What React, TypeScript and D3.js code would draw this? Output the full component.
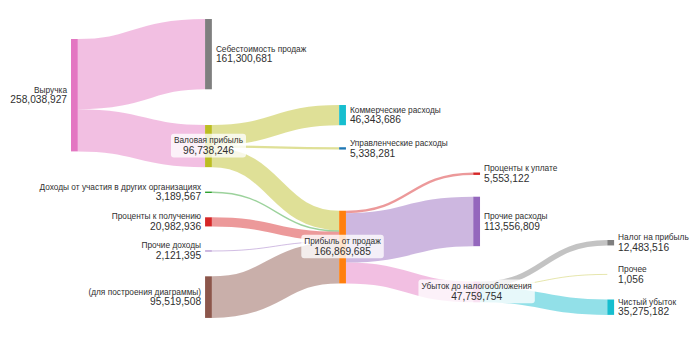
import React, { useEffect, useRef } from "react";
import * as d3 from "d3";

// ---- data ----
const nodeLabels = [
  "Выручка",
  "Себестоимость продаж",
  "Валовая прибыль",
  "Коммерческие расходы",
  "Управленческие расходы",
  "Прибыль от продаж",
  "Доходы от участия в других организациях",
  "Проценты к получению",
  "Прочие доходы",
  "(для построения диаграммы)",
  "Проценты к уплате",
  "Прочие расходы",
  "Убыток до налогообложения",
  "Налог на прибыль",
  "Прочее",
  "Чистый убыток",
];

const nodeColors = [
  "#e377c2", "#7f7f7f", "#bcbd22", "#17becf", "#1f77b4", "#ff7f0e",
  "#2ca02c", "#d62728", "#9467bd", "#8c564b", "#d62728", "#9467bd",
  "#e377c2", "#7f7f7f", "#bcbd22", "#17becf",
];

const linkSource = [0, 0, 2, 2, 2, 6, 7, 8, 9, 5, 5, 5, 12, 12, 12];
const linkTarget = [1, 2, 3, 4, 5, 5, 5, 5, 5, 10, 11, 12, 13, 14, 15];
const linkValues = [
  161300681, 96738246, 46343686, 5338281, 45056279, 3189567, 20982936,
  2121395, 95519508, 5553122, 113556809, 47759754, 12483516, 1056, 35275182,
];
const linkColors = [
  "#e377c2", "#e377c2", "#bcbd22", "#bcbd22", "#bcbd22", "#2ca02c",
  "#d62728", "#9467bd", "#8c564b", "#d62728", "#9467bd", "#e377c2",
  "#7f7f7f", "#bcbd22", "#17becf",
];

// ---- layout (node column and vertical centre as fraction of height) ----
const nodeColumn = [0, 1, 1, 2, 2, 2, 1, 1, 1, 1, 3, 3, 3, 4, 4, 4];
const nodeCenter = [
  0.272, 0.1547, 0.4174, 0.3289, 0.424, 0.7059, 0.5494, 0.6339, 0.7171,
  0.8489, 0.4963, 0.6327, 0.834, 0.6935, 0.784, 0.8777,
];
const labelSide = [
  "left", "right", "center", "right", "right", "center", "left", "left",
  "left", "left", "right", "right", "center", "right", "right", "right",
];

const W = 700;
const H = 350;
const NODE_W = 6.8;
const FONT = "Arial, 'Liberation Sans', Helvetica, sans-serif";

export default function App() {
  const ref = useRef<SVGSVGElement | null>(null);

  useEffect(() => {
    const svg = d3.select(ref.current);
    svg.selectAll("*").remove();

    const n = nodeLabels.length;
    const inSum = new Array(n).fill(0);
    const outSum = new Array(n).fill(0);
    linkValues.forEach((v, i) => {
      outSum[linkSource[i]] += v;
      inSum[linkTarget[i]] += v;
    });
    const nodeValue = inSum.map((v, i) => Math.max(v, outSum[i]));

    const xScale = d3.scaleLinear().domain([0, 4]).range([71, 607.3]);
    const yScale = d3.scaleLinear().domain([0, 1]).range([0, H]);
    const vScale = d3.scaleLinear().domain([0, 258038927]).range([0, 112.4]);

    const nodes = nodeLabels.map((name, i) => {
      const h = vScale(nodeValue[i]);
      const cy = yScale(nodeCenter[i]);
      return {
        name,
        i,
        x0: xScale(nodeColumn[i]),
        x1: xScale(nodeColumn[i]) + NODE_W,
        y0: cy - h / 2,
        y1: cy + h / 2,
        cy,
        value: nodeValue[i],
      };
    });

    const links = linkValues.map((v, i) => ({
      i,
      s: nodes[linkSource[i]],
      t: nodes[linkTarget[i]],
      w: vScale(v),
      color: linkColors[i],
      sy: 0,
      ty: 0,
    }));

    // stack link ends
    nodes.forEach((nd) => {
      const outs = links.filter((l) => l.s === nd).sort((a, b) => a.t.cy - b.t.cy);
      let y = nd.y0;
      outs.forEach((l) => {
        l.sy = y + l.w / 2;
        y += l.w;
      });
      const ins = links.filter((l) => l.t === nd).sort((a, b) => a.s.cy - b.s.cy);
      y = nd.y0;
      ins.forEach((l) => {
        l.ty = y + l.w / 2;
        y += l.w;
      });
    });

    const linkGen = d3
      .linkHorizontal<any, any>()
      .source((d: any) => [d.s.x1, d.sy])
      .target((d: any) => [d.t.x0, d.ty]);

    svg
      .append("g")
      .attr("fill", "none")
      .selectAll("path")
      .data(links)
      .join("path")
      .attr("d", linkGen as any)
      .attr("stroke", (d) => d.color)
      .attr("stroke-opacity", 0.47)
      .attr("stroke-width", (d) => Math.max(d.w, 0.8));

    svg
      .append("g")
      .selectAll("rect")
      .data(nodes)
      .join("rect")
      .attr("x", (d) => d.x0)
      .attr("y", (d) => d.y0)
      .attr("width", NODE_W)
      .attr("height", (d) => Math.max(d.y1 - d.y0, 0.001))
      .attr("fill", (d) => nodeColors[d.i]);

    const fmt = d3.format(",");
    const lg = svg
      .append("g")
      .attr("font-family", FONT)
      .attr("fill", "#2f2f2f");

    nodes.forEach((nd) => {
      const side = labelSide[nd.i];
      const g = lg.append("g");
      let x = nd.x1 + 4;
      let anchor = "start";
      if (side === "left") {
        x = nd.x0 - 4;
        anchor = "end";
      } else if (side === "center") {
        x = (nd.x0 + nd.x1) / 2;
        anchor = "middle";
      }
      const box = g.append("rect");
      const t1 = g
        .append("text")
        .attr("x", x)
        .attr("y", nd.cy - 5.5)
        .attr("dy", "0.35em")
        .attr("text-anchor", anchor)
        .attr("font-size", 8.3)
        .text(nd.name);
      const t2 = g
        .append("text")
        .attr("x", x)
        .attr("y", nd.cy + 4.6)
        .attr("dy", "0.35em")
        .attr("text-anchor", anchor)
        .attr("font-size", 10.2)
        .text(fmt(nd.value));
      if (side === "center") {
        const w1 = (t1.node() as SVGTextElement).getComputedTextLength();
        const w2 = (t2.node() as SVGTextElement).getComputedTextLength();
        const bw = Math.max(w1, w2) + 6;
        box
          .attr("x", x - bw / 2)
          .attr("y", nd.cy - 12.3)
          .attr("width", bw)
          .attr("height", 23.6)
          .attr("rx", 3)
          .attr("fill", "#ffffff")
          .attr("fill-opacity", 0.78);
      } else {
        box.remove();
      }
    });
  }, []);

  return (
    <div style={{ position: "fixed", left: 0, top: 0 }}>
      <svg ref={ref} width={W} height={H} style={{ display: "block", background: "#fff" }} />
    </div>
  );
}
